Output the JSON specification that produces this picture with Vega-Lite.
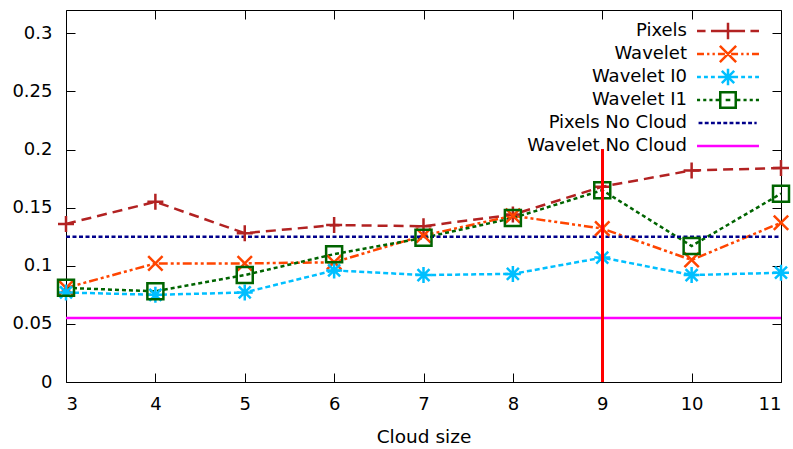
{
  "$schema": "https://vega.github.io/schema/vega-lite/v6.json",
  "width": 715,
  "height": 372,
  "autosize": {"type": "none"},
  "padding": {"left": 66, "top": 10, "right": 12, "bottom": 67},
  "background": "white",
  "config": {
    "view": {"stroke": "black", "strokeWidth": 1},
    "font": "DejaVu Sans",
    "axis": {
      "domain": false,
      "grid": false,
      "labelFont": "DejaVu Sans",
      "labelFontSize": 18,
      "labelColor": "black",
      "titleFont": "DejaVu Sans",
      "titleFontSize": 18.5,
      "titleFontWeight": "normal",
      "titleColor": "black",
      "tickColor": "black",
      "tickWidth": 1,
      "tickSize": -9
    }
  },
  "datasets": {
    "series": [
      {"series": "Pixels", "x": 3, "y": 0.136},
      {"series": "Pixels", "x": 4, "y": 0.155},
      {"series": "Pixels", "x": 5, "y": 0.128},
      {"series": "Pixels", "x": 6, "y": 0.135},
      {"series": "Pixels", "x": 7, "y": 0.134},
      {"series": "Pixels", "x": 8, "y": 0.144},
      {"series": "Pixels", "x": 9, "y": 0.168},
      {"series": "Pixels", "x": 10, "y": 0.182},
      {"series": "Pixels", "x": 11, "y": 0.184},
      {"series": "Wavelet", "x": 3, "y": 0.081},
      {"series": "Wavelet", "x": 4, "y": 0.102},
      {"series": "Wavelet", "x": 5, "y": 0.102},
      {"series": "Wavelet", "x": 6, "y": 0.103},
      {"series": "Wavelet", "x": 7, "y": 0.126},
      {"series": "Wavelet", "x": 8, "y": 0.143},
      {"series": "Wavelet", "x": 9, "y": 0.132},
      {"series": "Wavelet", "x": 10, "y": 0.105},
      {"series": "Wavelet", "x": 11, "y": 0.137},
      {"series": "Wavelet I0", "x": 3, "y": 0.077},
      {"series": "Wavelet I0", "x": 4, "y": 0.075},
      {"series": "Wavelet I0", "x": 5, "y": 0.077},
      {"series": "Wavelet I0", "x": 6, "y": 0.096},
      {"series": "Wavelet I0", "x": 7, "y": 0.092},
      {"series": "Wavelet I0", "x": 8, "y": 0.093},
      {"series": "Wavelet I0", "x": 9, "y": 0.107},
      {"series": "Wavelet I0", "x": 10, "y": 0.092},
      {"series": "Wavelet I0", "x": 11, "y": 0.094},
      {"series": "Wavelet I1", "x": 3, "y": 0.081},
      {"series": "Wavelet I1", "x": 4, "y": 0.078},
      {"series": "Wavelet I1", "x": 5, "y": 0.092},
      {"series": "Wavelet I1", "x": 6, "y": 0.110},
      {"series": "Wavelet I1", "x": 7, "y": 0.124},
      {"series": "Wavelet I1", "x": 8, "y": 0.141},
      {"series": "Wavelet I1", "x": 9, "y": 0.165},
      {"series": "Wavelet I1", "x": 10, "y": 0.117},
      {"series": "Wavelet I1", "x": 11, "y": 0.162},
      {"series": "Pixels No Cloud", "x": 3, "y": 0.125},
      {"series": "Pixels No Cloud", "x": 11, "y": 0.125},
      {"series": "Wavelet No Cloud", "x": 3, "y": 0.055},
      {"series": "Wavelet No Cloud", "x": 11, "y": 0.055}
    ]
  },
  "data": {"name": "series"},
  "resolve": {"axis": {"x": "independent", "y": "independent"}},
  "layer": [
    {
      "mark": {"type": "line", "strokeWidth": 2.5},
      "encoding": {
        "x": {
          "field": "x", "type": "quantitative",
          "scale": {"domain": [3, 11], "nice": false, "zero": false},
          "axis": {"orient": "bottom", "values": [3, 4, 5, 6, 7, 8, 9, 10, 11], "format": "d", "title": "Cloud size", "labelPadding": 22, "titlePadding": 14}
        },
        "y": {
          "field": "y", "type": "quantitative",
          "scale": {"domain": [0, 0.32], "nice": false},
          "axis": {"orient": "left", "values": [0, 0.05, 0.1, 0.15, 0.2, 0.25, 0.3], "format": "~g", "title": null, "labelPadding": 23}
        },
        "stroke": {
          "field": "series", "type": "nominal", "sort": "ascending",
          "scale": {
            "range": ["#b22222", "#00008b", "#ff4500", "#00bfff", "#006400", "#ff00ff"]
          },
          "legend": null
        },
        "strokeDash": {
          "field": "series", "type": "nominal", "sort": "ascending",
          "scale": {
            "range": [[10, 6], [4, 2.5], [9, 3, 3, 3, 3, 3], [5, 3], [4, 3], [1, 0]]
          },
          "legend": null
        }
      }
    },
    {
      "transform": [{"filter": "datum.series === 'Pixels'"}],
      "mark": {"type": "point", "shape": "M-1,0H1M0,-1V1", "filled": false, "size": 256, "strokeWidth": 2.5, "stroke": "#b22222", "opacity": 1},
      "encoding": {
        "x": {"field": "x", "type": "quantitative", "axis": null},
        "y": {"field": "y", "type": "quantitative", "axis": null}
      }
    },
    {
      "transform": [{"filter": "datum.series === 'Wavelet'"}],
      "mark": {"type": "point", "shape": "M-0.9,-0.9L0.9,0.9M-0.9,0.9L0.9,-0.9", "filled": false, "size": 256, "strokeWidth": 2.5, "stroke": "#ff4500", "opacity": 1},
      "encoding": {
        "x": {"field": "x", "type": "quantitative", "axis": null},
        "y": {"field": "y", "type": "quantitative", "axis": null}
      }
    },
    {
      "transform": [{"filter": "datum.series === 'Wavelet I0'"}],
      "mark": {"type": "point", "shape": "M-1,0H1M0,-1V1M-0.75,-0.75L0.75,0.75M-0.75,0.75L0.75,-0.75", "filled": false, "size": 256, "strokeWidth": 2.5, "stroke": "#00bfff", "opacity": 1},
      "encoding": {
        "x": {"field": "x", "type": "quantitative", "axis": null},
        "y": {"field": "y", "type": "quantitative", "axis": null}
      }
    },
    {
      "transform": [{"filter": "datum.series === 'Wavelet I1'"}],
      "mark": {"type": "point", "shape": "M-1,-1H1V1H-1Z", "filled": false, "size": 256, "strokeWidth": 2.5, "stroke": "#006400", "opacity": 1},
      "encoding": {
        "x": {"field": "x", "type": "quantitative", "axis": null},
        "y": {"field": "y", "type": "quantitative", "axis": null}
      }
    },
    {
      "mark": {"type": "rule", "color": "#ff0000", "strokeWidth": 2},
      "encoding": {
        "x": {"datum": 9, "type": "quantitative", "axis": null},
        "y": {"datum": 0, "type": "quantitative", "axis": null},
        "y2": {"datum": 0.2}
      }
    },
    {
      "mark": {"type": "point", "filled": false, "opacity": 0},
      "encoding": {
        "x": {
          "field": "x", "type": "quantitative",
          "axis": {"orient": "top", "values": [3, 4, 5, 6, 7, 8, 9, 10, 11], "labels": false, "title": null}
        },
        "y": {
          "field": "y", "type": "quantitative",
          "axis": {"orient": "right", "values": [0, 0.05, 0.1, 0.15, 0.2, 0.25, 0.3], "labels": false, "title": null}
        },
        "color": {
          "field": "series", "type": "nominal",
          "scale": {
            "domain": ["Pixels", "Wavelet", "Wavelet I0", "Wavelet I1", "Pixels No Cloud", "Wavelet No Cloud"],
            "range": ["#b22222", "#ff4500", "#00bfff", "#006400", "#00008b", "#ff00ff"]
          },
          "legend": {
            "orient": "none",
            "legendX": 653,
            "legendY": 12,
            "title": null,
            "labelFont": "DejaVu Sans",
            "labelFontSize": 18,
            "labelColor": "black",
            "labelAlign": "right",
            "labelOffset": -50,
            "labelLimit": 0,
            "symbolSize": 240,
            "symbolStrokeWidth": 2.5,
            "symbolOpacity": 1,
            "symbolFillColor": "transparent",
            "gridAlign": "all",
            "rowPadding": -7.5,
            "padding": 0
          }
        },
        "shape": {
          "field": "series", "type": "nominal",
          "scale": {
            "domain": ["Pixels", "Wavelet", "Wavelet I0", "Wavelet I1", "Pixels No Cloud", "Wavelet No Cloud"],
            "range": [
              "M-4,0H-2.9M-2.2,0H2.2M2.9,0H4M0,-1.08V1.08",
              "M-4,0H-3.1M-2.7,0H-2.4M-2,0H-1.7M-1.3,0H-0.4M-1.05,-1.05L1.05,1.05M-1.05,1.05L1.05,-1.05M0.4,0H1.3M1.7,0H2M2.4,0H2.7M3.1,0H4",
              "M-4,0H-3.5M-3.1,0H-2.6M-2.2,0H-1.7M-1.3,0H1.3M1.7,0H2.2M2.6,0H3.1M3.5,0H4M0,-1.08V1.08M-0.8,-0.8L0.8,0.8M-0.8,0.8L0.8,-0.8",
              "M-4,0H-3.6M-3.2,0H-2.8M-2.4,0H-2M-1.6,0H-1M-1,-1H1V1H-1ZM-0.3,0H0.3M1,0H1.6M2,0H2.4M2.8,0H3.2M3.6,0H4",
              "M-3.8,0H-3.3M-3,0H-2.5M-2.2,0H-1.7M-1.4,0H-0.9M-0.6,0H-0.1M0.2,0H0.7M1,0H1.5M1.8,0H2.3M2.6,0H3.1M3.4,0H3.7",
              "M-4,0H4"
            ]
          }
        }
      }
    }
  ]
}
